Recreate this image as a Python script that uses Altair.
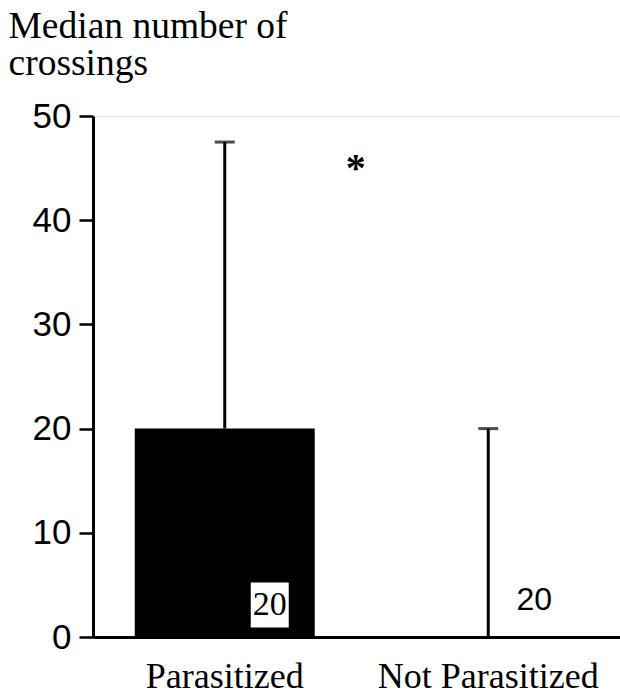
import altair as alt
import pandas as pd

groups = ["Parasitized", "Not Parasitized"]
medians = [20, 0]
upper = [47.5, 20]
n_sizes = [20, 20]
y_ticks = [0, 10, 20, 30, 40, 50]

df = pd.DataFrame({"group": groups, "median": medians, "upper": upper, "n": n_sizes})

x_enc = alt.X(
    "group:N",
    sort=groups,
    scale=alt.Scale(paddingInner=0.317, paddingOuter=0.1585),
    axis=alt.Axis(
        title=None,
        labelAngle=0,
        labelFont="Liberation Serif",
        labelFontSize=36,
        labelColor="black",
        labelPadding=22,
        labelLimit=500,
        ticks=False,
        tickSize=0,
        domainColor="black",
        domainWidth=3,
        labelBaseline="top",
    ),
)

y_scale = alt.Scale(domain=[0, 50], nice=False)

base = alt.Chart(df)

bars = base.mark_bar(color="black").encode(
    x=x_enc,
    y=alt.Y(
        "median:Q",
        scale=y_scale,
        axis=alt.Axis(
            values=y_ticks,
            grid=False,
            title=["Median number of", "crossings"],
            titleAngle=0,
            titleAlign="left",
            titleBaseline="alphabetic",
            titleX=-85,
            titleY=-79,
            titleFont="Liberation Serif",
            titleFontSize=37.5,
            titleFontWeight="normal",
            titleColor="black",
            titleLineHeight=37,
            labelFont="Liberation Sans",
            labelFontSize=35,
            labelColor="black",
            labelPadding=8,
            tickSize=14,
            tickWidth=2.5,
            tickColor="black",
            domainColor="black",
            domainWidth=3,
        ),
    ),
)

rules = base.mark_rule(color="black", strokeWidth=3).encode(
    x=alt.X("group:N", sort=groups),
    y=alt.Y("median:Q"),
    y2="upper:Q",
)

caps = base.mark_tick(color="black", thickness=3, size=20).encode(
    x=alt.X("group:N", sort=groups),
    y=alt.Y("upper:Q"),
)

box = base.transform_filter(alt.datum.group == "Parasitized").mark_point(
    shape="M-0.844,-1H0.844V1H-0.844Z",
    size=2025,
    filled=True,
    color="white",
    opacity=1,
    xOffset=45,
    yOffset=-32,
).encode(
    x=alt.X("group:N", sort=groups),
    y=alt.datum(0),
)

text_p = base.transform_filter(alt.datum.group == "Parasitized").mark_text(
    font="Liberation Serif", fontSize=34, color="black", dx=45, dy=-32, baseline="middle"
).encode(
    x=alt.X("group:N", sort=groups),
    y=alt.datum(0),
    text="n:Q",
)

text_np = base.transform_filter(alt.datum.group == "Not Parasitized").mark_text(
    font="Liberation Sans", fontSize=32, color="black", dx=46, dy=-37, baseline="middle"
).encode(
    x=alt.X("group:N", sort=groups),
    y=alt.datum(0),
    text="n:Q",
)

star = base.transform_filter(alt.datum.group == "Parasitized").mark_text(
    text="*", font="Liberation Serif", fontSize=40, fontWeight="bold", color="black", dx=131, baseline="middle"
).encode(
    x=alt.X("group:N", sort=groups),
    y=alt.value(53),
)

chart = (
    alt.layer(bars, rules, caps, box, text_p, text_np, star)
    .properties(
        width=527,
        height=521,
        autosize=alt.AutoSizeParams(type="none"),
        padding={"left": 93, "top": 116, "right": 0, "bottom": 58},
    )
    .configure_view(stroke=None)
    .configure(background="white")
)

chart.save("out.html", embed_options={"renderer": "svg", "actions": False})
